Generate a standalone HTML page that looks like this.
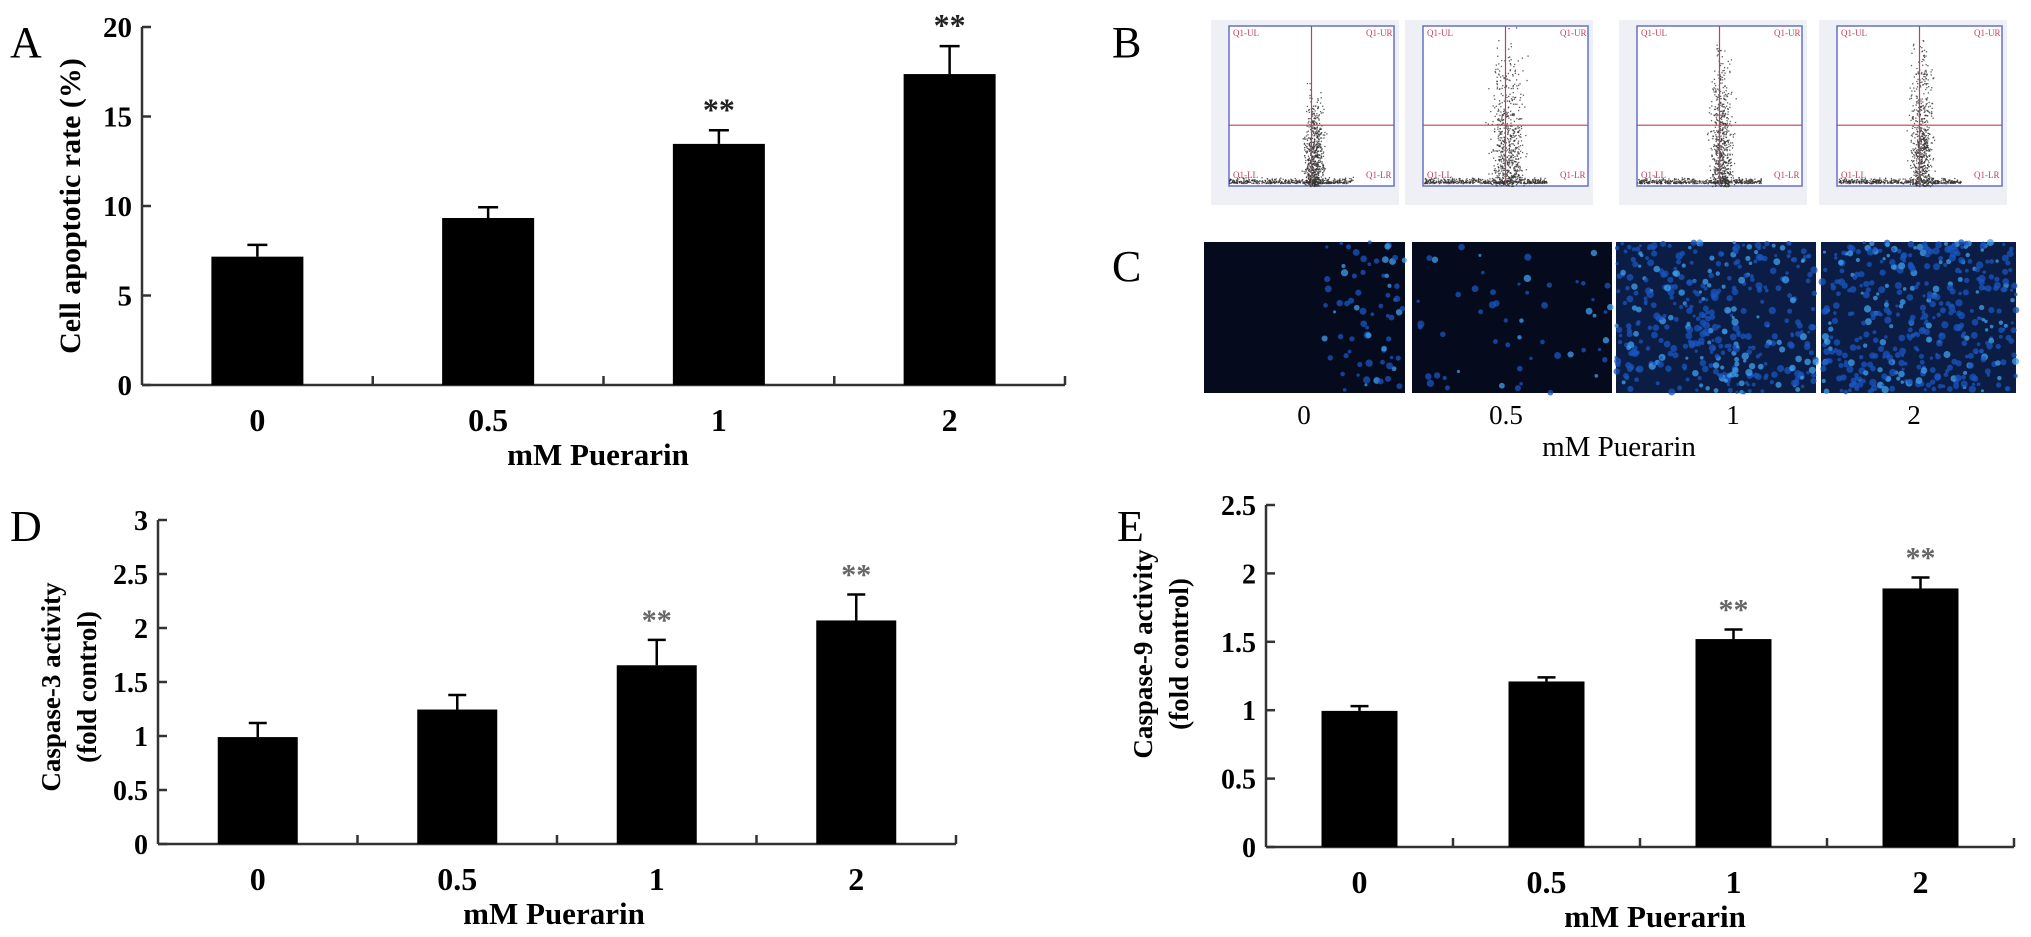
<!DOCTYPE html>
<html><head><meta charset="utf-8"><style>
html,body{margin:0;padding:0;background:#fff;}
svg{display:block;font-family:"Liberation Serif",serif;}
</style></head><body>
<svg id="fig" width="2031" height="937" viewBox="0 0 2031 937" xmlns="http://www.w3.org/2000/svg">
<text x="10" y="57" font-size="44">A</text>
<text x="1112" y="57" font-size="44">B</text>
<text x="1112" y="281" font-size="44">C</text>
<text x="10" y="541" font-size="44">D</text>
<text x="1117" y="541" font-size="44">E</text>
<g id="gA"></g>
<g id="gD"></g>
<g id="gE"></g>
<g id="gB"></g>
<g id="gC"></g>
<text x="1304" y="424" font-size="27" text-anchor="middle">0</text>
<text x="1506" y="424" font-size="27" text-anchor="middle">0.5</text>
<text x="1733" y="424" font-size="27" text-anchor="middle">1</text>
<text x="1914" y="424" font-size="27" text-anchor="middle">2</text>
<text x="1619" y="456" font-size="29" text-anchor="middle">mM Puerarin</text>
</svg>
<script>
const categories = ["0", "0.5", "1", "2"];
const aValues = [7.17, 9.33, 13.47, 17.37];
const aErrors = [0.66, 0.6, 0.76, 1.56];
const aStars = ["", "", "**", "**"];
const aTicks = [0, 5, 10, 15, 20];
const dValues = [0.99, 1.245, 1.655, 2.07];
const dErrors = [0.13, 0.135, 0.235, 0.24];
const dStars = ["", "", "**", "**"];
const dTicks = [0, 0.5, 1, 1.5, 2, 2.5, 3];
const eValues = [0.995, 1.21, 1.52, 1.89];
const eErrors = [0.035, 0.03, 0.07, 0.08];
const eStars = ["", "", "**", "**"];
const eTicks = [0, 0.5, 1, 1.5, 2, 2.5];

const NS = "http://www.w3.org/2000/svg";
function mk(parent, tag, attrs, txt) {
  const el = document.createElementNS(NS, tag);
  for (const k in attrs) el.setAttribute(k, attrs[k]);
  if (txt !== undefined) el.textContent = txt;
  parent.appendChild(el);
  return el;
}

function drawChart(g, cfg, values, errors, stars, ticks) {
  const y = v => cfg.y0 - (v - cfg.min) / (cfg.max - cfg.min) * (cfg.y0 - cfg.yTop);
  const step = (cfg.xEnd - cfg.x0) / categories.length;
  const xc = i => cfg.x0 + step * (i + 0.5);
  let l = mk(g, "line", {x1: cfg.x0, y1: cfg.yTop, x2: cfg.x0, y2: cfg.y0, stroke: "#333", "stroke-width": 2.5});
  
  
  l = mk(g, "line", {x1: cfg.x0, y1: cfg.y0, x2: cfg.xEnd, y2: cfg.y0, stroke: "#333", "stroke-width": 2.5});
  
  
  ticks.forEach(t => {
    const tk = mk(g, "line", {x1: cfg.x0, y1: y(t), x2: cfg.x0 + 9, y2: y(t), stroke: "#333", "stroke-width": 2.5});
    
    
    const tl = mk(g, "text", {x: cfg.x0 - 10, y: y(t) + 10, "font-size": cfg.tickFs, "font-weight": "bold", "text-anchor": "end"}, String(t));
    
    
  });
  for (let i = 1; i <= categories.length; i++) {
    const xt = cfg.x0 + step * i;
    const tk = mk(g, "line", {x1: xt, y1: cfg.y0, x2: xt, y2: cfg.y0 - 9, stroke: "#333", "stroke-width": 2.5});
    
    
  }
  categories.forEach((c, i) => {
    const cx = xc(i);
    const top = y(values[i]);
    const et = y(values[i] + errors[i]);
    const eb = mk(g, "line", {x1: cx, y1: top, x2: cx, y2: et, stroke: "#000", "stroke-width": 2.5});
    
    
    const ec = mk(g, "line", {x1: cx - cfg.cap, y1: et, x2: cx + cfg.cap, y2: et, stroke: "#000", "stroke-width": 2.5});
    
    
    const r = mk(g, "rect", {x: cx - cfg.bw / 2, y: top, width: cfg.bw, height: cfg.y0 - top, fill: "#000"});
    
    
    if (stars[i]) {
      const s = mk(g, "text", {x: cx, y: et - 10, "font-size": cfg.starFs, "font-weight": "bold", "text-anchor": "middle", fill: cfg.starColor}, stars[i]);
      
      
    }
    const cl = mk(g, "text", {x: cx, y: cfg.y0 + 46, "font-size": 32, "font-weight": "bold", "text-anchor": "middle"}, c);
    
    
  });
  const xt = mk(g, "text", {x: cfg.titleX, y: cfg.y0 + 80, "font-size": 31, "font-weight": "bold", "text-anchor": "middle"}, "mM Puerarin");
  
  
  cfg.ytitle.forEach((line, k) => {
    const yt = mk(g, "text", {x: 0, y: 0, "font-size": cfg.ytFs, "font-weight": "bold", "text-anchor": "middle",
      transform: "translate(" + (cfg.ytX + k * 36) + "," + cfg.ytY + ") rotate(-90)"}, line);
    
    
  });
}

drawChart(document.getElementById("gA"),
  {x0: 142, xEnd: 1065, y0: 385, yTop: 27, min: 0, max: 20, bw: 92, cap: 10, tickFs: 29, starFs: 32, starColor: "#222",
   titleX: 598, ytitle: ["Cell  apoptotic rate (%)"], ytX: 80, ytY: 206, ytFs: 30}, aValues, aErrors, aStars, aTicks);
drawChart(document.getElementById("gD"),
  {x0: 158, xEnd: 956, y0: 844, yTop: 520, min: 0, max: 3, bw: 80, cap: 9, tickFs: 28, starFs: 30, starColor: "#666",
   titleX: 554, ytitle: ["Caspase-3 activity", "(fold control)"], ytX: 60, ytY: 687, ytFs: 27}, dValues, dErrors, dStars, dTicks);
drawChart(document.getElementById("gE"),
  {x0: 1266, xEnd: 2014, y0: 847, yTop: 505, min: 0, max: 2.5, bw: 76, cap: 9, tickFs: 28, starFs: 30, starColor: "#666",
   titleX: 1655, ytitle: ["Caspase-9 activity", "(fold control)"], ytX: 1152, ytY: 654, ytFs: 27}, eValues, eErrors, eStars, eTicks);

// decorative images (not chart data)
let seed = 7;
function rnd() { seed = (seed * 16807) % 2147483647; return seed / 2147483647; }
function gauss() { return (rnd() + rnd() + rnd() - 1.5) / 1.5; }

const gB = document.getElementById("gB");
const plotX = [1211, 1405, 1619, 1819];
const upperFrac = [0.25, 0.6, 0.5, 0.65];
const spread = [14, 24, 16, 16];
plotX.forEach((px, p) => {
  const g = mk(gB, "g", {});
  
  
  mk(g, "rect", {x: px, y: 20, width: 188, height: 185, fill: "#eef0f6"});
  const ix = px + 18, iy = 26, iw = 165, ih = 160;
  mk(g, "rect", {x: ix, y: iy, width: iw, height: ih, fill: "#fff", stroke: "#6670c8", "stroke-width": 1.5});
  const qx = ix + iw * 0.5, qy = iy + ih * 0.62;
  for (let k = 0; k < 1100; k++) {
    let x, yy;
    if (rnd() < 0.4) { x = ix + rnd() * iw * 0.75; yy = iy + ih - 3 - Math.abs(gauss()) * 7; }
    else { x = qx + gauss() * spread[p] + 2; yy = iy + ih - Math.abs(gauss()) * ih * (0.5 + upperFrac[p]); }
    if (x < ix || x > ix + iw || yy < iy || yy > iy + ih) continue;
    mk(g, "rect", {x: x, y: yy, width: 1.3, height: 1.3, fill: "#333", opacity: 0.8});
  }
  mk(g, "line", {x1: qx, y1: iy, x2: qx, y2: iy + ih, stroke: "#c0405a", "stroke-width": 1.2});
  mk(g, "line", {x1: ix, y1: qy, x2: ix + iw, y2: qy, stroke: "#c0405a", "stroke-width": 1.2});
  mk(g, "text", {x: ix + 4, y: iy + 10, "font-size": 9, fill: "#c0405a"}, "Q1-UL");
  mk(g, "text", {x: ix + iw - 28, y: iy + 10, "font-size": 9, fill: "#c0405a"}, "Q1-UR");
  mk(g, "text", {x: ix + 4, y: iy + ih - 8, "font-size": 9, fill: "#c0405a"}, "Q1-LL");
  mk(g, "text", {x: ix + iw - 28, y: iy + ih - 8, "font-size": 9, fill: "#c0405a"}, "Q1-LR");
});

const gC = document.getElementById("gC");
const imgX = [1204, 1412, 1616, 1821];
const imgW = [201, 200, 200, 195];
const density = [70, 55, 420, 440];
imgX.forEach((ix, p) => {
  const g = mk(gC, "g", {});
  
  
  mk(g, "rect", {x: ix, y: 242, width: imgW[p], height: 151, fill: p >= 2 ? "#0b1d45" : "#050b1c"});
  for (let k = 0; k < density[p]; k++) {
    let x = ix + rnd() * imgW[p];
    if (p === 0) x = ix + imgW[p] * (0.6 + 0.4 * rnd());
    const yy = 242 + rnd() * 151;
    const r = 1.5 + rnd() * 2.2;
    mk(g, "circle", {cx: x, cy: yy, r: r, fill: rnd() < 0.25 ? "#3fa0f0" : "#1a56c0", opacity: 0.75});
  }
});
</script>
</body></html>
